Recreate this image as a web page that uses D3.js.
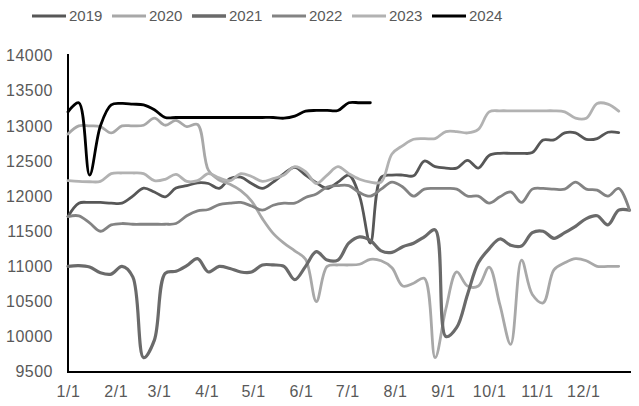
<!DOCTYPE html>
<html><head><meta charset="utf-8">
<script src="https://cdn.jsdelivr.net/npm/d3@7/dist/d3.min.js"></script>
<style>
html,body{margin:0;padding:0;background:#fff;}
svg text{font-family:"Liberation Sans",Arial,sans-serif;fill:#595959;}
</style></head>
<body>
<svg id="chart" width="639" height="406"></svg>
<script>
// ---- data (weekly points starting 1/1) ----
const years = ["2019","2020","2021","2022","2023","2024"];
const monthLabels = ["1/1","2/1","3/1","4/1","5/1","6/1","7/1","8/1","9/1","10/1","11/1","12/1"];
const yTicks = [9500,10000,10500,11000,11500,12000,12500,13000,13500,14000];

const s2019 = [11710,11900,11910,11910,11900,11900,12000,12115,12060,11990,
  12115,12150,12190,12180,12110,12250,12270,12180,12110,12200,
  12320,12410,12300,12190,12110,12200,12300,12000,11330,12270,
  12300,12300,12290,12500,12420,12400,12400,12510,12400,12580,
  12610,12610,12610,12620,12800,12800,12900,12900,12810,12820,
  12910,12905];
const s2020 = [12885,13000,13000,12990,12900,13000,13000,13010,13110,13010,
  13080,12990,13020,12370,12230,12170,12080,11930,11680,11470,
  11330,11220,11100,10500,11000,11020,11020,11030,11100,11080,
  10980,10720,10760,10830,9700,10400,10920,10720,10720,10990,
  10450,9890,11090,10600,10480,10950,11050,11110,11080,11000,
  11000,11000];
const s2021 = [11000,11010,10990,10910,10890,11000,10850,9700,9950,10900,
  10930,11010,11110,10920,11000,10970,10920,10920,11020,11020,
  11000,10810,11000,11210,11090,11090,11330,11420,11370,11220,
  11200,11280,11330,11420,11520,10000,10130,10600,11050,11250,
  11390,11300,11290,11480,11500,11400,11480,11570,11680,11720,
  11590,11800,11800];
const s2022 = [11710,11720,11620,11500,11590,11610,11600,11600,11600,11600,
  11610,11720,11790,11810,11880,11900,11910,11860,11800,11870,
  11900,11900,11980,12030,12130,12150,12150,12050,12000,12100,
  12200,12130,12000,12100,12110,12110,12100,12000,12000,11900,
  11990,12060,11910,12100,12110,12100,12100,12200,12100,12085,
  12000,12110,11800];
const s2023 = [12220,12210,12205,12210,12320,12330,12330,12320,12220,12240,
  12310,12210,12220,12320,12260,12220,12320,12280,12210,12250,
  12300,12420,12350,12180,12300,12420,12320,12240,12200,12200,
  12600,12720,12810,12820,12820,12920,12920,12900,12950,13200,
  13215,13215,13215,13215,13215,13215,13200,13110,13110,13320,
  13310,13210];
const s2024 = [13200,13330,12300,13000,13300,13320,13310,13300,13230,13120,
  13120,13120,13120,13120,13120,13120,13120,13120,13120,13120,
  13110,13140,13210,13220,13220,13220,13330,13330,13330];

const seriesValues = [s2019,s2020,s2021,s2022,s2023,s2024];
const colors = ["#575757","#a8a8a8","#6a6a6a","#838383","#b2b2b2","#000000"];
const widths = [2.8,2.8,3.2,2.8,2.8,2.8];

// ---- scales ----
const svg = d3.select("#chart");
const start = new Date(2019,0,1), end = new Date(2019,11,31);
const x = d3.scaleTime().domain([start,end]).range([68,629.5]);
const y = d3.scaleLinear().domain([9500,14000]).range([371.7,55.7]);
const weekDate = i => d3.timeDay.offset(start, 7*i);

// ---- axes ----
const monthDates = d3.timeMonth.range(start, end);
const xAxis = d3.axisBottom(x).tickValues(monthDates)
  .tickFormat((d,i)=>monthLabels[i]).tickSize(0).tickPadding(14);
const gx = svg.append("g").attr("transform","translate(0,372)").call(xAxis);
gx.select(".domain").remove();
gx.selectAll("text").style("font-size","16px").attr("letter-spacing","0.6px").attr("fill","#595959");

const yAxis = d3.axisLeft(y).tickValues(yTicks).tickFormat(d3.format("d")).tickSize(0).tickPadding(15);
const gy = svg.append("g").attr("transform","translate(68,0)").call(yAxis);
gy.select(".domain").remove();
gy.selectAll("text").style("font-size","16px").attr("letter-spacing","0.5px").attr("fill","#595959");

// axis lines
svg.append("line").attr("x1",68).attr("x2",68).attr("y1",54).attr("y2",373)
  .attr("stroke","#000").attr("stroke-width",2);
svg.append("line").attr("x1",67).attr("x2",631).attr("y1",y(9500)+0.3).attr("y2",y(9500)+0.3)
  .attr("stroke","#000").attr("stroke-width",2);

// ---- lines ----
const line = d3.line()
  .x((d,i)=>x(weekDate(i)))
  .y(d=>y(d))
  .curve(d3.curveCatmullRom.alpha(0.5));

seriesValues.forEach((vals,k)=>{
  svg.append("path").datum(vals)
    .attr("d", line)
    .attr("fill","none")
    .attr("stroke", colors[k])
    .attr("stroke-width", widths[k])
    .attr("stroke-linejoin","round")
    .attr("stroke-linecap","round");
});

// ---- legend ----
const lg = svg.append("g");
years.forEach((yr,i)=>{
  const lx = 32 + i*80;
  lg.append("line").attr("x1",lx).attr("x2",lx+34).attr("y1",16).attr("y2",16)
    .attr("stroke",colors[i]).attr("stroke-width", i===2?3.6:3);
  lg.append("text").attr("x",lx+37).attr("y",16).attr("dy","0.36em")
    .style("font-size","15px").text(yr);
});
</script>
</body></html>
